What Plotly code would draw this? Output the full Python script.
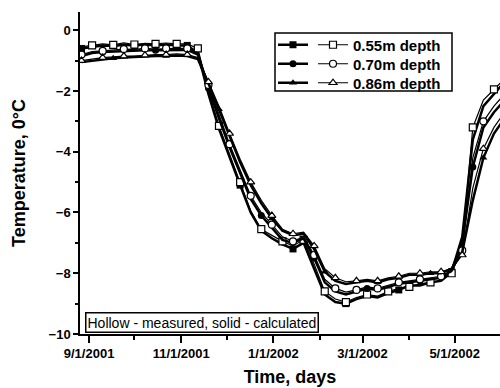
import plotly.graph_objects as go

dates = [
    "2001-08-27", "2001-09-03", "2001-09-10", "2001-09-17", "2001-09-24",
    "2001-10-01", "2001-10-08", "2001-10-15", "2001-10-22", "2001-10-29",
    "2001-11-05", "2001-11-12", "2001-11-19", "2001-11-26", "2001-12-03",
    "2001-12-10", "2001-12-17", "2001-12-24", "2001-12-31", "2002-01-07",
    "2002-01-14", "2002-01-21", "2002-01-28", "2002-02-04", "2002-02-11",
    "2002-02-18", "2002-02-25", "2002-03-04", "2002-03-11", "2002-03-18",
    "2002-03-25", "2002-04-01", "2002-04-08", "2002-04-15", "2002-04-22",
    "2002-04-29", "2002-05-06", "2002-05-13", "2002-05-20", "2002-05-27",
    "2002-06-03",
]

meas_055 = [-0.55, -0.5, -0.45, -0.48, -0.42, -0.47, -0.43, -0.45, -0.42, -0.45,
            -0.45, -0.6, -2.0, -3.15, -4.1, -5.0, -5.95, -6.55, -6.75, -6.95,
            -7.1, -6.9, -7.7, -8.6, -8.85, -8.95, -8.8, -8.7, -8.75, -8.6,
            -8.5, -8.45, -8.35, -8.3, -8.25, -8.0, -7.1, -3.2, -2.3, -1.95, -1.6]
meas_070 = [-0.8, -0.7, -0.68, -0.65, -0.62, -0.63, -0.6, -0.62, -0.6, -0.6,
            -0.6, -0.75, -1.8, -2.8, -3.75, -4.6, -5.45, -6.0, -6.4, -6.8,
            -6.95, -6.8, -7.4, -8.2, -8.5, -8.62, -8.55, -8.45, -8.5, -8.4,
            -8.3, -8.25, -8.2, -8.15, -8.1, -7.95, -7.25, -4.2, -3.0, -2.5, -2.1]
meas_086 = [-1.0, -0.95, -0.9, -0.88, -0.85, -0.85, -0.82, -0.8, -0.8, -0.78,
            -0.8, -0.9, -1.7, -2.5, -3.4, -4.25, -5.0, -5.6, -6.1, -6.55,
            -6.7, -6.65, -7.1, -7.85, -8.15, -8.28, -8.25, -8.2, -8.25, -8.15,
            -8.1, -8.0, -8.0, -7.95, -7.95, -7.85, -7.4, -5.2, -3.9, -3.2, -2.7]

calc_055 = [-0.6, -0.55, -0.5, -0.52, -0.48, -0.5, -0.47, -0.5, -0.47, -0.5,
            -0.5, -0.75, -2.1, -3.25, -4.2, -5.1, -6.0, -6.6, -6.85, -7.05,
            -7.2, -7.0, -7.85, -8.7, -8.95, -9.0, -8.85, -8.75, -8.8, -8.65,
            -8.55, -8.4, -8.4, -8.3, -8.25, -7.95, -6.8, -3.6, -2.5, -2.1, -1.7]
calc_070 = [-0.85, -0.75, -0.72, -0.7, -0.68, -0.68, -0.66, -0.66, -0.65, -0.65,
            -0.65, -0.8, -1.9, -2.9, -3.85, -4.7, -5.55, -6.1, -6.5, -6.9,
            -7.0, -6.85, -7.5, -8.3, -8.6, -8.7, -8.6, -8.5, -8.55, -8.45,
            -8.35, -8.3, -8.25, -8.2, -8.15, -7.9, -7.0, -4.5, -3.2, -2.7, -2.3]
calc_086 = [-1.05, -1.0, -0.95, -0.92, -0.9, -0.88, -0.87, -0.85, -0.85, -0.83,
            -0.85, -0.95, -1.75, -2.6, -3.5, -4.35, -5.1, -5.7, -6.2, -6.6,
            -6.75, -6.7, -7.2, -7.95, -8.25, -8.35, -8.3, -8.25, -8.3, -8.2,
            -8.15, -8.05, -8.05, -8.0, -8.0, -7.85, -7.3, -5.6, -4.2, -3.4, -2.9]

labels = ["0.55m depth", "0.70m depth", "0.86m depth"]
symbols = ["square", "circle", "triangle-up"]
calc = [calc_055, calc_070, calc_086]
meas = [meas_055, meas_070, meas_086]

FONT = "Liberation Sans, Arial, sans-serif"
PLOT_L, PLOT_W, PLOT_B, PLOT_H = 80, 420, 334, 322
row_px = [45, 64, 83]


def px_x(p):
    return (p - PLOT_L) / PLOT_W


def px_y(p):
    return (PLOT_B - p) / PLOT_H


fig = go.Figure()
legends = {}
for i in range(3):
    lc = "legend" if i == 0 else f"legend{i + 1}"
    lm = f"legend{i + 4}"
    fig.add_trace(go.Scatter(
        x=dates, y=calc[i], mode="lines+markers", name=" ",
        legend=lc,
        line=dict(color="black", width=2.5),
        marker=dict(symbol=symbols[i], size=7, color="black", maxdisplayed=8),
    ))
    fig.add_trace(go.Scatter(
        x=dates, y=meas[i], mode="lines+markers", name=labels[i],
        legend=lm,
        line=dict(color="black", width=1.2),
        marker=dict(symbol=symbols[i], size=7, color="white",
                    line=dict(color="black", width=1.2), maxdisplayed=20),
    ))
    common = dict(yanchor="middle", xanchor="left", bgcolor="rgba(0,0,0,0)",
                  borderwidth=0, itemwidth=30,
                  font=dict(size=15, family=FONT, weight="bold"))
    legends[lc] = dict(x=px_x(273), y=px_y(row_px[i]), **common)
    legends[lm] = dict(x=px_x(313), y=px_y(row_px[i]), **common)

xrange = ["2001-08-26", "2002-05-31"]
fig.update_layout(
    width=500, height=388,
    margin=dict(l=80, r=0, t=12, b=54),
    paper_bgcolor="white", plot_bgcolor="white",
    font=dict(family=FONT, color="black"),
    showlegend=True,
    xaxis=dict(
        range=xrange, type="date", tick0="2001-09-01", dtick="M2",
        tickformat="%-m/%-d/%Y", ticks="outside", ticklen=7, tickwidth=1.5,
        tickcolor="black", showline=True, linecolor="black", linewidth=1.5,
        showgrid=False, zeroline=False,
        tickfont=dict(size=13, family=FONT, weight="bold"),
        minor=dict(dtick="M1", tick0="2001-09-01", ticks="outside", ticklen=4,
                   tickcolor="black", showgrid=False),
        title=dict(text="Time, days", font=dict(size=18, family=FONT, weight="bold"),
                   standoff=10),
    ),
    xaxis2=dict(
        range=xrange, type="date", overlaying="x", side="top",
        tick0="2001-09-01", dtick="M2", ticks="inside", ticklen=7, tickwidth=1.5,
        tickcolor="black", showticklabels=False, showline=True,
        linecolor="black", linewidth=1.5, showgrid=False, zeroline=False,
        minor=dict(dtick="M1", tick0="2001-09-01", ticks="inside", ticklen=4,
                   tickcolor="black", showgrid=False),
    ),
    yaxis=dict(
        range=[-10, 0.6], dtick=2, tick0=0, ticks="outside", ticklen=5,
        tickwidth=1.5, tickcolor="black", showline=True, linecolor="black",
        linewidth=1.5, showgrid=False, zeroline=False,
        tickfont=dict(size=13, family=FONT, weight="bold"),
        minor=dict(dtick=1, ticks="outside", ticklen=3, tickcolor="black",
                   showgrid=False),
        title=dict(text="Temperature, 0°C", font=dict(size=18, family=FONT, weight="bold"),
                   standoff=18),
    ),
    shapes=[dict(type="rect", xref="paper", yref="paper",
                 x0=px_x(275), x1=px_x(452),
                 y0=px_y(91), y1=px_y(33),
                 line=dict(color="black", width=1.5))],
    annotations=[dict(text="Hollow - measured, solid - calculated",
                      xref="paper", yref="paper", x=px_x(85), y=px_y(333),
                      xanchor="left", yanchor="bottom", showarrow=False,
                      font=dict(size=14, family=FONT, color="black"),
                      bordercolor="black", borderwidth=1.5, borderpad=1,
                      bgcolor="white")],
)
fig.update_layout(**legends)

fig.write_html("out.html")
